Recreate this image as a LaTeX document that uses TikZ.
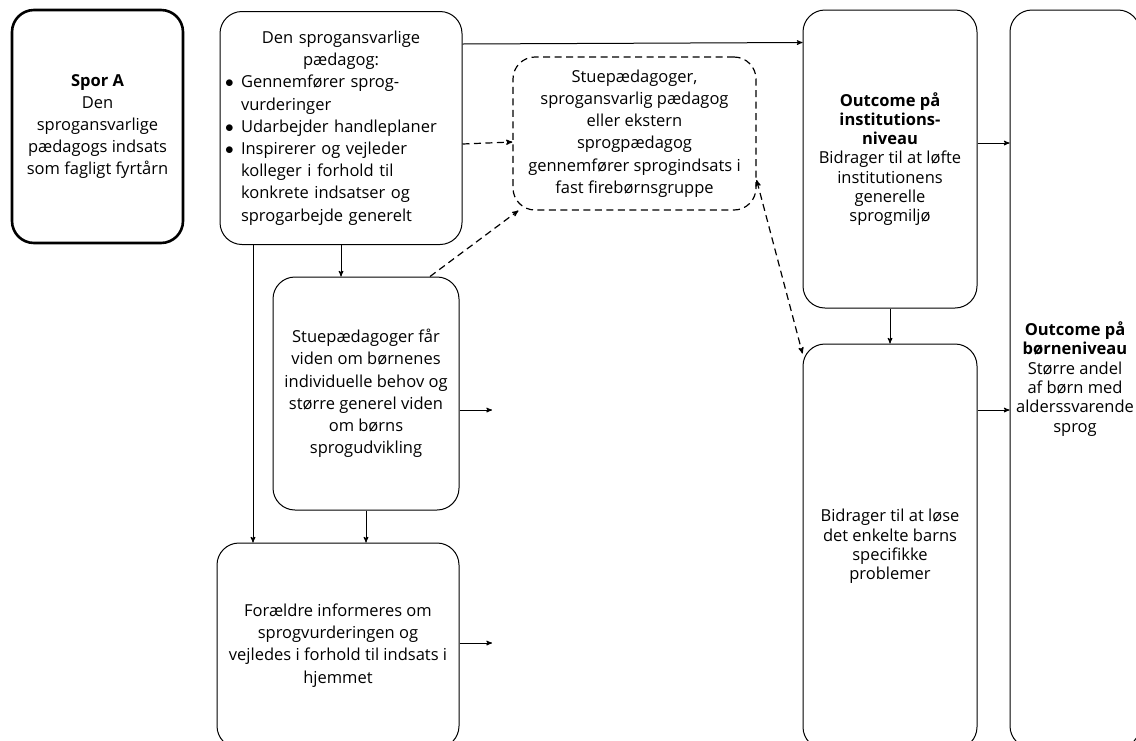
\documentclass[tikz,border=0pt]{standalone}
\usepackage{fontspec}
\setmainfont{Open Sans}
\usepackage{tikz}
\usetikzlibrary{
        arrows,
        positioning,
        shapes
    }
\tikzset{>=stealth',auto,node distance=35pt}
\tikzset{boks/.style={draw,rounded corners=22pt,line width=1pt,inner sep=0pt,align=center,
        font=\fontsize{16.5}{22.2}\selectfont}}
\tikzset{udfald/.style={boks,font=\fontsize{16.5}{19.3}\selectfont}}
\tikzset{stiplet/.style={line width=1.2pt,dash pattern=on 7pt off 4.5pt}}
\newcommand{\punkt}{\makebox[16pt][l]{$\bullet$}}

\begin{document}
\begin{tikzpicture}[x=1pt,y=-1pt,line width=1pt]
                \useasboundingbox (0,0) rectangle (1136,740);
                \node[boks,line width=2.6pt,minimum width=171pt,minimum height=233pt] (spor) at (97.5,126.5)
                        {\textbf{Spor A}\\Den\\sprogansvarlige\\pædagogs indsats\\som fagligt fyrtårn};
                \node[boks,align=left,minimum width=242pt,minimum height=233pt,text width=232pt] (sprog) at (341,128)
                        {{\centering Den sprogansvarlige\\pædagog:\par}
                        \punkt Gennemfører sprog-\\
                        \hspace*{16pt}vurderinger\\
                        \punkt Udarbejder handleplaner\\
                        \punkt Inspirerer og vejleder\\
                        \hspace*{16pt}kolleger i forhold til\\
                        \hspace*{16pt}konkrete indsatser og\\
                        \hspace*{16pt}sprogarbejde generelt};
                \node[boks,stiplet,minimum width=243pt,minimum height=153pt] (gruppe) at (634.5,133.5)
                        {Stuepædagoger,\\sprogansvarlig pædagog\\eller ekstern\\sprogpædagog\\gennemfører sprogindsats i\\fast firebørnsgruppe};
                \node[boks,minimum width=186pt,minimum height=233pt] (stue) at (366,393.5)
                        {Stuepædagoger får\\viden om børnenes\\individuelle behov og\\større generel viden\\om børns\\sprogudvikling};
                \node[boks,minimum width=242pt,minimum height=205pt] (foraeldre) at (338,645.5)
                        {Forældre informeres om\\sprogvurderingen og\\vejledes i forhold til indsats i\\hjemmet};
                \node[udfald,minimum width=174pt,minimum height=298pt] (inst) at (890,159)
                        {\textbf{Outcome på}\\\textbf{institutions-}\\\textbf{niveau}\\Bidrager til at løfte\\institutionens\\generelle\\sprogmiljø};
                \node[udfald,minimum width=174pt,minimum height=405pt] (barn) [below=of inst]
                        {Bidrager til at løse\\det enkelte barns\\specifikke\\problemer};
                \node[udfald,minimum width=130pt,minimum height=738pt] (boern) at (1075,379)
                        {\textbf{Outcome på}\\\textbf{børneniveau}\\Større andel\\af børn med\\alderssvarende\\sprog};
                \coordinate (stueud) at (492,410);
                \coordinate (foraeldreud) at (492,643);
                \coordinate (instud) at (1010,143);
                \path[->]
                        ([yshift=-33pt]sprog.north east) edge ([yshift=-33pt]inst.north west)
                        (sprog.south) edge (sprog.south |- stue.north)
                        ([xshift=-88pt]sprog.south) edge ([xshift=-88pt]sprog.south |- foraeldre.north)
                        (stue.south) edge (stue.south |- foraeldre.north)
                        (stue.east |- stueud) edge (stueud)
                        (foraeldre.east |- foraeldreud) edge (foraeldreud)
                        (inst.south) edge (barn.north)
                        (inst.east |- instud) edge (boern.west |- instud)
                        (barn.east |- stueud) edge (boern.west |- stueud)
                ;
                \path[->,stiplet]
                        ([yshift=-16pt]sprog.east) edge ([yshift=-8.5pt]gruppe.west)
                        ([xshift=64pt]stue.north) edge ([xshift=6pt]gruppe.south west)
                ;
                \draw[<->,stiplet] ([yshift=-46.5pt]gruppe.east) -- ([yshift=-10pt]barn.north west);
            \end{tikzpicture}
\end{document}
